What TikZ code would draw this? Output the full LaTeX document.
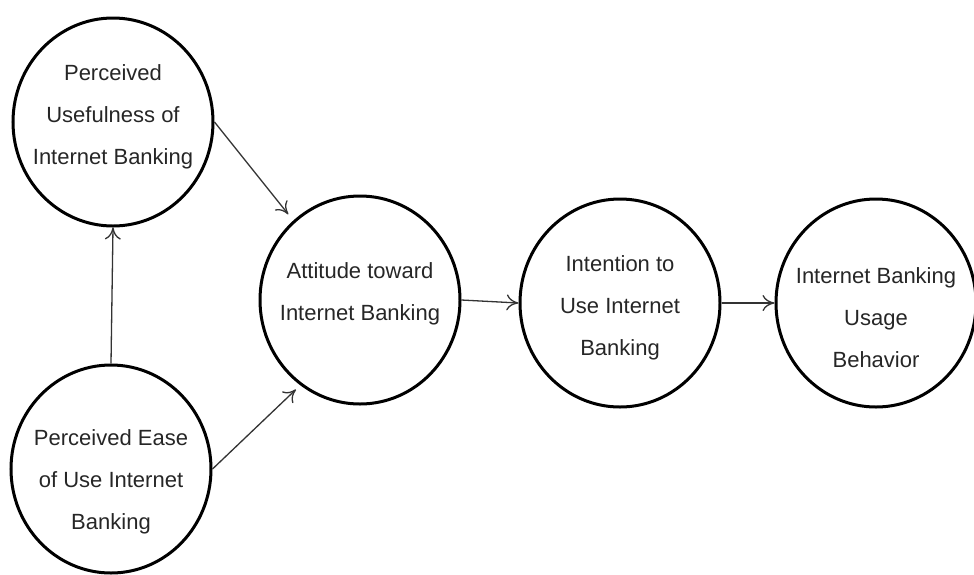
\documentclass[tikz,border=0pt]{standalone}
\usepackage{fontspec}
\setmainfont{Liberation Sans}
\usetikzlibrary{arrows.meta,shapes.geometric}
\begin{document}
\begin{tikzpicture}[x=0.5pt, y=-0.5pt,
        construct/.style n args={2}{draw, ellipse, line width=1.5pt, minimum width=100pt, minimum height=104pt, inner sep=0pt,
            label={[align=center, font=\fontsize{11}{21}\selectfont, text=black!85, yshift=#2]center:#1}},
        link/.style={-{To[length=6pt,width=8pt]}, line width=0.65pt, black!80},
        ]
        \useasboundingbox (0,0) rectangle (974,574);
        \node[construct={Perceived\\Usefulness of\\Internet Banking}{2.5pt}] (pu) at (113,122) {};
        \node[construct={Perceived Ease\\of Use Internet\\Banking}{-6.5pt}] (peou) at (111,469) {};
        \node[construct={Attitude toward\\Internet Banking}{3pt}] (att) at (360,300) {};
        \node[construct={Intention to\\Use Internet\\Banking}{-2.5pt}] (int) at (620,303) {};
        \node[construct={Internet Banking\\Usage\\Behavior}{-7.5pt}] (use) at (876,303) {};
        \draw[link] (peou.north) -- (pu.south);
        \draw[link, shorten >=4pt] (pu.east) -- (att.130);
        \draw[link, shorten >=3pt] (peou.east) -- (att.235);
        \draw[link] (att.east) -- (int.west);
        \draw[link] (int.east) -- (use.west);
\end{tikzpicture}
\end{document}
